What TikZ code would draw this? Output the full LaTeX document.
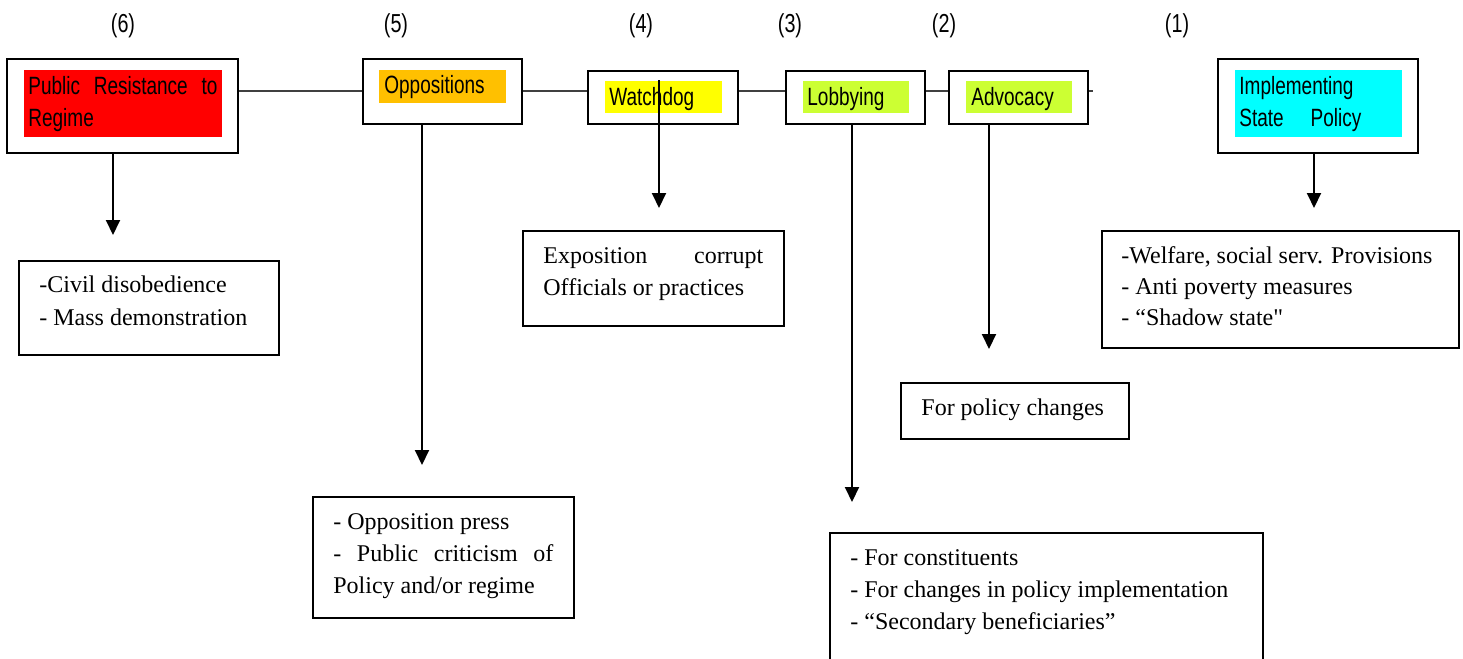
\documentclass[tikz,border=0pt]{standalone}
\usepackage{fontspec}
\setmainfont{Liberation Serif}
\newfontfamily\headfont[FakeStretch=0.76]{Liberation Sans}
\usetikzlibrary{arrows.meta}
\definecolor{cRed}{HTML}{FF0000}
\definecolor{cOrange}{HTML}{FFC000}
\definecolor{cYellow}{HTML}{FFFF00}
\definecolor{cLime}{HTML}{CCFF33}
\definecolor{cCyan}{HTML}{00FFFF}
\definecolor{cLink}{HTML}{404040}
\begin{document}
\begin{tikzpicture}[x=0.5pt,y=-0.5pt,
  box/.style={draw=black,line width=1pt,inner sep=0pt,fill=white},
  hilite/.style={fill=#1,draw=none,inner sep=0pt},
  head/.style={font=\headfont\fontsize{12.5}{16}\selectfont,inner sep=0pt,anchor=base west},
  body/.style={font=\fontsize{12}{16}\selectfont,inner sep=0pt,anchor=base west},
  num/.style={font=\headfont\fontsize{13}{16}\selectfont,inner sep=0pt},
  link/.style={draw=cLink,line width=0.75pt},
  arr/.style={draw=black,line width=1pt,-{Triangle[length=7.5pt,width=7pt]}}]
\useasboundingbox (0,0) rectangle (1463,659);
\clip (0,0) rectangle (1463,659);

% numbers
\node[num] (n6) at (123,26) {(6)};
\node[num] (n5) at (396,26) {(5)};
\node[num] (n4) at (641,26) {(4)};
\node[num] (n3) at (790,26) {(3)};
\node[num] (n2) at (944,26) {(2)};
\node[num] (n1) at (1177,26) {(1)};

% top boxes
\node[box,minimum width=115.5pt,minimum height=47pt] (b6) at (122.5,106) {};
\node[hilite=cRed,minimum width=99pt,minimum height=33.5pt] (f6) at (123,103.5) {};
\node[head] (t6a) at (28,94) {\makebox[94.5pt][s]{Public\hfill Resistance\hfill to}};
\node[head] (t6b) at (28,126) {Regime};

\node[box,minimum width=79.5pt,minimum height=32.5pt] (b5) at (442.5,91.5) {};
\node[hilite=cOrange,minimum width=63.5pt,minimum height=16.5pt] (f5) at (442.5,86.5) {};
\node[head] (t5) at (384,93) {Oppositions};

\node[box,minimum width=75pt,minimum height=26.5pt] (b4) at (663,97.5) {};
\node[hilite=cYellow,minimum width=58.5pt,minimum height=16pt] (f4) at (663.5,97) {};
\node[head] (t4) at (609,105) {Watchdog};

\node[box,minimum width=69.5pt,minimum height=26.5pt] (b3) at (855.5,97.5) {};
\node[hilite=cLime,minimum width=53pt,minimum height=16pt] (f3) at (856,97) {};
\node[head] (t3) at (807,105) {Lobbying};

\node[box,minimum width=69.5pt,minimum height=26.5pt] (b2) at (1018.5,97.5) {};
\node[hilite=cLime,minimum width=53pt,minimum height=16pt] (f2) at (1019,97) {};
\node[head] (t2) at (971,105) {Advocacy};

\node[box,minimum width=100pt,minimum height=47pt] (b1) at (1318,106) {};
\node[hilite=cCyan,minimum width=83.5pt,minimum height=33.5pt] (f1) at (1318.5,103.5) {};
\node[head] (t1a) at (1239,94) {Implementing};
\node[head] (t1b) at (1239,126) {\makebox[61pt][s]{State\hfill Policy}};

% horizontal links
\coordinate (hl) at (0,91);
\coordinate (stub) at (1093,91);
\draw[link] (b6.east |- hl) -- (b5.west |- hl);
\draw[link] (b5.east |- hl) -- (b4.west |- hl);
\draw[link] (b4.east |- hl) -- (b3.west |- hl);
\draw[link] (b3.east |- hl) -- (b2.west |- hl);
\draw[link] (b2.east |- hl) -- (stub);

% lower boxes
\node[box,minimum width=130pt,minimum height=47pt] (d6) at (149,308) {};
\node[body] (u6a) at (39,292) {-Civil disobedience};
\node[body] (u6b) at (39,325) {- Mass demonstration};

\node[box,minimum width=130.5pt,minimum height=60.5pt] (d5) at (443.5,557.5) {};
\node[body] (u5a) at (333,529) {- Opposition press};
\node[body] (u5b) at (333,561) {\makebox[110pt][s]{-\hfill Public\hfill criticism\hfill of}};
\node[body] (u5c) at (333,593) {Policy and/or regime};

\node[box,minimum width=130.5pt,minimum height=47.5pt] (d4) at (653,278.5) {};
\node[body] (u4a) at (543,263) {\makebox[110pt][s]{Exposition\hfill corrupt}};
\node[body] (u4b) at (543,295) {Officials or practices};

\node[box,minimum width=216.5pt,minimum height=75pt] (d3) at (1046.5,608) {};
\node[body] (u3a) at (850,565) {- For constituents};
\node[body] (u3b) at (850,597) {- For changes in policy implementation};
\node[body] (u3c) at (850,629) {- ``Secondary beneficiaries''};

\node[box,minimum width=114pt,minimum height=28pt] (d2) at (1015,411) {};
\node[body] (u2) at (921,415) {For policy changes};

\node[box,minimum width=178.5pt,minimum height=58.5pt] (d1) at (1280.5,289) {};
\node[body] (u1a) at (1121,263) {-Welfare, social serv. Provisions};
\node[body] (u1b) at (1121,294) {- Anti poverty measures};
\node[body] (u1c) at (1121,325) {- ``Shadow state\textquotedbl};

% vertical arrows
\coordinate (e6) at (113,235);
\coordinate (e5) at (422,465);
\coordinate (s4) at (659,80);
\coordinate (e4) at (659,208);
\coordinate (e3) at (852,502);
\coordinate (e2) at (989,349);
\coordinate (e1) at (1314,208);
\draw[arr] (e6 |- b6.south) -- (e6);
\draw[arr] (e5 |- b5.south) -- (e5);
\draw[arr] (s4) -- (e4);
\draw[arr] (e3 |- b3.south) -- (e3);
\draw[arr] (e2 |- b2.south) -- (e2);
\draw[arr] (e1 |- b1.south) -- (e1);
\end{tikzpicture}
\end{document}
